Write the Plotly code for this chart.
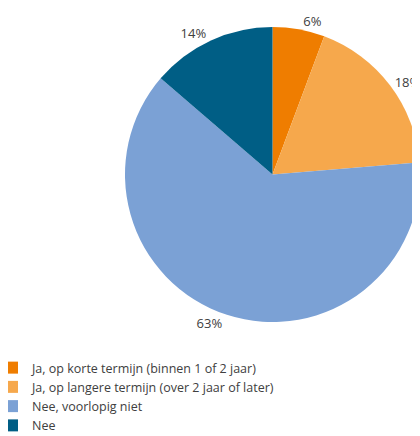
import plotly.graph_objects as go

categories = [
    "Ja, op korte termijn (binnen 1 of 2 jaar)",
    "Ja, op langere termijn (over 2 jaar of later)",
    "Nee, voorlopig niet",
    "Nee",
]
values = [5.7, 18.0, 62.6, 13.7]
colors = ["#EF7D00", "#F6A84C", "#7BA1D5", "#005E85"]

W, H = 412, 428  # page body has an 8px margin inside the 420x436 window
FONT = "Open Sans, Noto Sans, sans-serif"
TEXT = "#404040"
FS = 12.5

fig = go.Figure(
    go.Pie(
        labels=categories,
        values=values,
        sort=False,
        direction="clockwise",
        rotation=0,
        marker=dict(colors=colors, line=dict(width=0)),
        textinfo="percent",
        texttemplate="%{percent:.0%}",
        textposition="outside",
        outsidetextfont=dict(family=FONT, size=13, color=TEXT),
        domain=dict(x=[117 / W, 1.0], y=[1 - 314 / H, 1 - 19 / H]),
        automargin=False,
        showlegend=True,
        hoverinfo="label+percent",
    )
)

fig.update_layout(
    width=W,
    height=H,
    margin=dict(l=0, r=0, t=0, b=0, autoexpand=False),
    paper_bgcolor="white",
    plot_bgcolor="white",
    font=dict(family=FONT, size=FS, color=TEXT),
    legend=dict(
        x=-16 / W,
        y=1 - 345 / H,
        xanchor="left",
        yanchor="top",
        traceorder="normal",
        font=dict(family=FONT, size=FS, color=TEXT),
        itemwidth=30,
        tracegroupgap=0,
        bgcolor="rgba(0,0,0,0)",
    ),
)

fig.write_html("out.html")
